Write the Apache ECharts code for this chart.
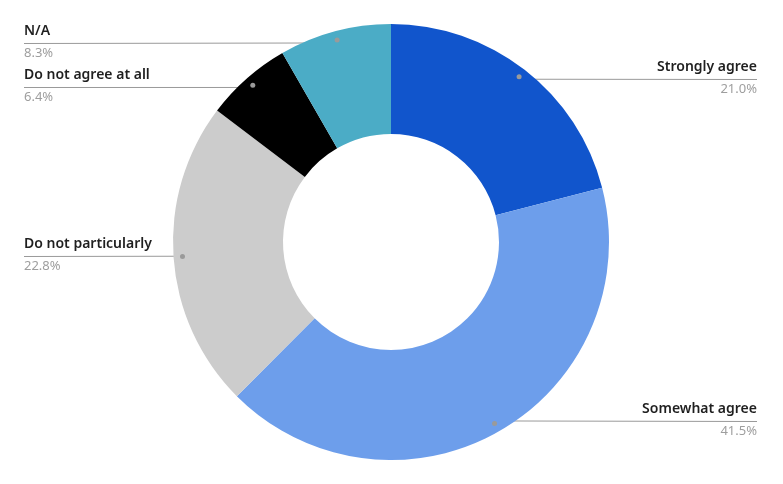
<!DOCTYPE html>
<html>
<head>
<meta charset="utf-8">
<script src="https://cdn.jsdelivr.net/npm/echarts@6/dist/echarts.min.js"></script>
<style>
html,body{margin:0;padding:0;background:#fff;}
#chart{width:783px;height:484px;}
</style>
</head>
<body>
<div id="chart"></div>
<script>
var categories = ['Strongly agree', 'Somewhat agree', 'Do not particularly', 'Do not agree at all', 'N/A'];
var values = [21.0, 41.5, 22.8, 6.4, 8.3];
var colors = ['#1155cc', '#6d9eeb', '#cccccc', '#000000', '#4bacc6'];

var CX = 391, CY = 242, R0 = 108, R1 = 218, RDOT = 206;
var LEFT_X = 24, RIGHT_X = 757;

var data = categories.map(function (c, i) {
  return { name: c, value: values[i], itemStyle: { color: colors[i] } };
});

var chart = echarts.init(document.getElementById('chart'), null, { renderer: 'canvas' });

chart.setOption({
  animation: false,
  backgroundColor: '#ffffff',
  textStyle: { fontFamily: 'Noto Sans' },
  series: [
    {
      type: 'pie',
      center: [CX, CY],
      radius: [R0, R1],
      startAngle: 90,
      clockwise: true,
      avoidLabelOverlap: false,
      data: data,
      emphasis: { disabled: true },
      label: {
        show: true,
        position: 'outside',
        alignTo: 'edge',
        edgeDistance: 25,
        formatter: function (p) {
          return '{n|' + p.name + '}\n{p|' + p.value.toFixed(1) + '%}';
        },
        rich: {
          n: { fontSize: 14, fontWeight: 600, color: '#1f1f1f', lineHeight: 20, fontFamily: 'Noto Sans' },
          p: { fontSize: 13, color: '#9e9e9e', lineHeight: 24, fontFamily: 'Noto Sans' }
        }
      },
      labelLine: {
        show: true,
        length: 5,
        length2: 5,
        lineStyle: { color: '#9a9a9a', width: 1 }
      },
      labelLayout: function (params) {
        var pts = params.labelLinePoints;
        if (!pts) return {};
        var p0 = pts[0];
        var k = RDOT / R1;
        var dx = CX + (p0[0] - CX) * k;
        var dy = CY + (p0[1] - CY) * k;
        var isLeft = p0[0] < CX;
        var ex = isLeft ? LEFT_X : RIGHT_X;
        var ly = Math.round(dy) + 0.5;
        return {
          x: ex,
          y: ly,
          align: isLeft ? 'left' : 'right',
          verticalAlign: 'middle',
          labelLinePoints: [[dx, dy], [dx, dy], [ex, ly]]
        };
      }
    },
    {
      type: 'pie',
      center: [CX, CY],
      radius: [RDOT - 10, RDOT + 10],
      startAngle: 90,
      clockwise: true,
      silent: true,
      z: 5,
      data: categories.map(function (c, i) { return { name: c, value: values[i] }; }),
      itemStyle: { color: 'rgba(0,0,0,0)' },
      emphasis: { disabled: true },
      label: {
        show: true,
        position: 'inside',
        formatter: ' ',
        fontSize: 4,
        lineHeight: 5,
        width: 5,
        height: 5,
        padding: 0,
        backgroundColor: '#9a9a9a',
        borderRadius: 2.5
      },
      labelLine: { show: false }
    }
  ]
});
</script>
</body>
</html>
